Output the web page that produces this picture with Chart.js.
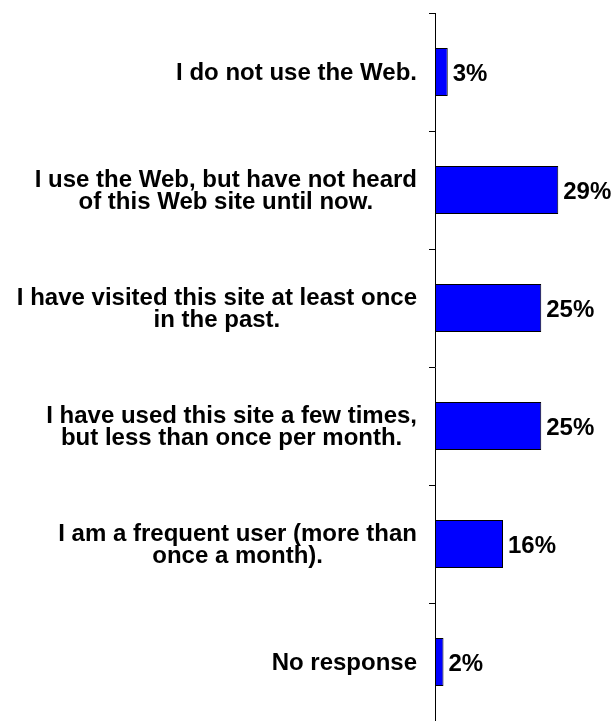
<!DOCTYPE html>
<html>
<head>
<meta charset="utf-8">
<script src="https://cdn.jsdelivr.net/npm/chart.js@4"></script>
<style>
  html, body { margin: 0; padding: 0; background: #fff; }
  #wrap { width: 613px; height: 721px; position: relative; }
</style>
</head>
<body>
<div id="wrap"><canvas id="chart"></canvas></div>
<script>
// categorías (multilínea) y porcentajes
const categories = [
  ['I do not use the Web.'],
  ['I use the Web, but have not heard', 'of this Web site until now.'],
  ['I have visited this site at least once', 'in the past.'],
  ['I have used this site a few times,', 'but less than once per month.'],
  ['I am a frequent user (more than', 'once a month).'],
  ['No response']
];
const percents = [3, 29, 25, 25, 16, 2];
const valueLabels = ['3%', '29%', '25%', '25%', '16%', '2%'];

const FONT = 'bold 24px "Liberation Sans", Arial, sans-serif';

// etiquetas del eje: bloque alineado a la derecha, líneas centradas entre sí
const catLabelsPlugin = {
  id: 'catLabels',
  afterDraw(chart){
    const ctx = chart.ctx;
    const y = chart.scales.y;
    const right = y.right - 18;
    const lh = 22;
    ctx.save();
    ctx.font = FONT;
    ctx.fillStyle = '#000';
    ctx.textAlign = 'center';
    ctx.textBaseline = 'middle';
    categories.forEach((lines, i) => {
      const cy = y.getPixelForTick(i) + 1;
      const w = Math.max(...lines.map(l => ctx.measureText(l).width));
      const cx = right - w / 2;
      const top = cy - (lines.length - 1) * lh / 2;
      lines.forEach((l, k) => ctx.fillText(l, cx, top + k * lh));
    });
    ctx.restore();
  }
};

// porcentaje al final de cada barra
const valueLabelsPlugin = {
  id: 'valueLabels',
  afterDatasetsDraw(chart){
    const ctx = chart.ctx;
    const meta = chart.getDatasetMeta(0);
    ctx.save();
    ctx.font = FONT;
    ctx.fillStyle = '#000';
    ctx.textAlign = 'left';
    ctx.textBaseline = 'middle';
    meta.data.forEach((bar, i) => {
      ctx.fillText(valueLabels[i], bar.x + 5, bar.y + 2);
    });
    ctx.restore();
  }
};

new Chart(document.getElementById('chart'), {
  type: 'bar',
  data: {
    labels: categories.map(c => c.join(' ')),
    datasets: [{
      data: percents,
      backgroundColor: '#0000FF',
      borderColor: '#000000',
      borderWidth: 1,
      borderSkipped: false,
      categoryPercentage: 1,
      barPercentage: 0.405
    }]
  },
  options: {
    indexAxis: 'y',
    responsive: true,
    maintainAspectRatio: false,
    animation: false,
    layout: { padding: { top: 13, right: 8, bottom: 0, left: 0 } },
    plugins: { legend: { display: false }, tooltip: { enabled: false } },
    scales: {
      x: {
        display: false,
        min: 0,
        max: 40
      },
      y: {
        afterFit(scale){ scale.width = 435; },
        ticks: { display: false },
        grid: {
          offset: true,
          drawOnChartArea: false,
          drawTicks: true,
          tickLength: 6,
          color: '#000',
          lineWidth: 1
        },
        border: { display: true, color: '#000', width: 1 }
      }
    }
  },
  plugins: [catLabelsPlugin, valueLabelsPlugin]
});
</script>
</body>
</html>
